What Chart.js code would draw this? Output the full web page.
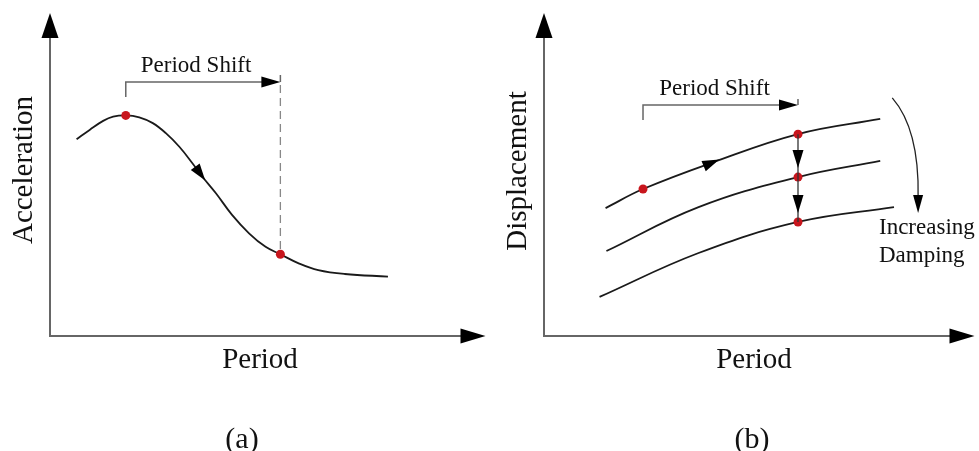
<!DOCTYPE html>
<html>
<head>
<meta charset="utf-8">
<script src="https://cdn.jsdelivr.net/npm/chart.js@4.4.0/dist/chart.umd.min.js"></script>
<style>
html, body { margin: 0; padding: 0; background: #fff; }
#wrap { position: relative; width: 979px; height: 451px; }
#wrap canvas { position: absolute; top: 0; }
</style>
</head>
<body>
<div id="wrap">
  <canvas id="chartA" width="490" height="451" style="left:0"></canvas>
  <canvas id="chartB" width="489" height="451" style="left:490px"></canvas>
</div>
<script>
// (a) acceleration spectrum, period on x, both axes 0..10 (schematic units)
const periodA = [0.61, 0.91, 1.22, 1.45, 1.74, 2.05, 2.36, 2.66, 2.97, 3.27, 3.50, 3.81,
                 4.18, 4.57, 4.95, 5.29, 5.71, 6.16, 6.77, 7.76];
const accelA  = [6.09, 6.38, 6.66, 6.79, 6.83, 6.77, 6.59, 6.28, 5.86, 5.35, 4.93, 4.42,
                 3.75, 3.18, 2.76, 2.53, 2.25, 2.04, 1.92, 1.84];
const markA   = [4, 15];  // red points: start and end of the period shift
const flowA   = 3.45;     // period where the direction arrow sits

// (b) displacement spectra for increasing damping
const periodB1 = [1.43, 2.30, 3.89, 5.90, 7.81];
const dispB1   = [3.96, 4.55, 5.36, 6.25, 6.72];
const periodB2 = [1.45, 3.59, 5.90, 7.81];
const dispB2   = [2.63, 3.99, 4.92, 5.42];
const periodB3 = [1.29, 3.59, 5.90, 8.13];
const dispB3   = [1.21, 2.57, 3.53, 3.99];
const markB1   = [1, 3];
const markB2   = 2;
const markB3   = 2;
const flowB    = 3.89;

// bracket heights for the "Period Shift" notes (y units)
const bracketA = { level: 7.86, low: 7.40, high: 8.08 };
const bracketB = { level: 7.15, low: 6.69, high: 7.34 };
// damping arrow (x, y units): start, bend, end
const dampArrow = [[8.09, 7.37], [8.72, 6.40], [8.69, 3.81]];

const SERIF = '"Liberation Serif", "Times New Roman", serif';
const AXIS = '#666';
const RED = '#c8161d';

const toPts = (xs, ys) => xs.map((x, i) => ({ x: x, y: ys[i] }));

function head(ctx, tx, ty, ang, len, w) {
    ctx.save();
    ctx.translate(tx, ty);
    ctx.rotate(ang);
    ctx.beginPath();
    ctx.moveTo(0, 0);
    ctx.lineTo(-len, -w / 2);
    ctx.lineTo(-len, w / 2);
    ctx.closePath();
    ctx.fillStyle = '#000';
    ctx.fill();
    ctx.restore();
}

function text(ctx, str, px, py, size, align, rot) {
    ctx.save();
    ctx.translate(px, py);
    if (rot) ctx.rotate(rot);
    ctx.font = size + 'px ' + SERIF;
    ctx.fillStyle = '#111';
    ctx.textAlign = align || 'center';
    ctx.textBaseline = 'alphabetic';
    ctx.fillText(str, 0, 0);
    ctx.restore();
}

function drawAxes(ctx, x, y) {
    const ox = x.getPixelForValue(0), oy = y.getPixelForValue(0);
    const ex = x.getPixelForValue(10), ey = y.getPixelForValue(10);
    ctx.save();
    ctx.strokeStyle = AXIS;
    ctx.lineWidth = 2;
    ctx.beginPath();
    ctx.moveTo(ox, ey + 20);
    ctx.lineTo(ox, oy);
    ctx.lineTo(ex - 20, oy);
    ctx.stroke();
    ctx.restore();
    head(ctx, ex, oy, 0, 25, 15);
    head(ctx, ox, ey, -Math.PI / 2, 25, 17);
}

// bracket from xa to xb with an arrow at xb
function bracket(ctx, x, y, xa, xb, br) {
    const pa = x.getPixelForValue(xa), pb = x.getPixelForValue(xb);
    const yl = y.getPixelForValue(br.level);
    ctx.save();
    ctx.strokeStyle = AXIS;
    ctx.lineWidth = 1.5;
    ctx.beginPath();
    ctx.moveTo(pa, y.getPixelForValue(br.low));
    ctx.lineTo(pa, yl);
    ctx.lineTo(pb - 15, yl);
    ctx.moveTo(pb, y.getPixelForValue(br.high));
    ctx.lineTo(pb, yl);
    ctx.stroke();
    ctx.restore();
    head(ctx, pb, yl, 0, 19, 11);
    return { mid: (pa + pb) / 2, yl: yl };
}

// arrow head sitting on a drawn curve at a given period
function flowArrow(ctx, chart, dsIndex, period, len, w) {
    const line = chart.getDatasetMeta(dsIndex).dataset;
    const px = chart.scales.x.getPixelForValue(period);
    const a = line.interpolate({ x: px - 3 }, 'x');
    const p = line.interpolate({ x: px }, 'x');
    const b = line.interpolate({ x: px + 3 }, 'x');
    if (!a || !p || !b) return;
    const ang = Math.atan2(b.y - a.y, b.x - a.x);
    head(ctx, p.x + Math.cos(ang) * len / 2, p.y + Math.sin(ang) * len / 2, ang, len, w);
}

const decoA = {
    id: 'decoA',
    afterDatasetsDraw(chart) {
        const ctx = chart.ctx, x = chart.scales.x, y = chart.scales.y;
        drawAxes(ctx, x, y);
        const b = bracket(ctx, x, y, periodA[markA[0]], periodA[markA[1]], bracketA);
        // dashed drop line to the shifted point
        const px = x.getPixelForValue(periodA[markA[1]]);
        ctx.save();
        ctx.strokeStyle = '#888';
        ctx.lineWidth = 1.3;
        ctx.setLineDash([8, 5]);
        ctx.beginPath();
        ctx.moveTo(px, b.yl + 3);
        ctx.lineTo(px, y.getPixelForValue(accelA[markA[1]]) - 4);
        ctx.stroke();
        ctx.restore();
        flowArrow(ctx, chart, 1, flowA, 17, 11);
        text(ctx, 'Period Shift', b.mid - 7, b.yl - 10, 23);
        text(ctx, 'Period', 260, 368, 29);
        text(ctx, 'Acceleration', 32, 170, 29, 'center', -Math.PI / 2);
        text(ctx, '(a)', 242, 448, 30);
    }
};

const decoB = {
    id: 'decoB',
    afterDatasetsDraw(chart) {
        const ctx = chart.ctx, x = chart.scales.x, y = chart.scales.y;
        drawAxes(ctx, x, y);
        const b = bracket(ctx, x, y, periodB1[markB1[0]], periodB1[markB1[1]], bracketB);
        // drop arrows between the three curves at the shifted period
        const px = x.getPixelForValue(periodB1[markB1[1]]);
        const y1 = y.getPixelForValue(dispB1[markB1[1]]);
        const y2 = y.getPixelForValue(dispB2[markB2]);
        const y3 = y.getPixelForValue(dispB3[markB3]);
        ctx.save();
        ctx.strokeStyle = '#333';
        ctx.lineWidth = 1.3;
        ctx.beginPath();
        ctx.moveTo(px, y1);
        ctx.lineTo(px, y3);
        ctx.stroke();
        ctx.restore();
        head(ctx, px, y2 - 9, Math.PI / 2, 18, 11);
        head(ctx, px, y3 - 9, Math.PI / 2, 18, 11);
        flowArrow(ctx, chart, 1, flowB, 17, 11);
        // curved damping arrow
        const s = dampArrow[0], c = dampArrow[1], e = dampArrow[2];
        const ex = x.getPixelForValue(e[0]), ey = y.getPixelForValue(e[1]);
        ctx.save();
        ctx.strokeStyle = '#222';
        ctx.lineWidth = 1.3;
        ctx.beginPath();
        ctx.moveTo(x.getPixelForValue(s[0]), y.getPixelForValue(s[1]));
        ctx.quadraticCurveTo(x.getPixelForValue(c[0]), y.getPixelForValue(c[1]), ex, ey - 16);
        ctx.stroke();
        ctx.restore();
        head(ctx, ex, ey, Math.PI / 2, 18, 10);
        text(ctx, 'Period Shift', b.mid - 6, b.yl - 10, 23);
        text(ctx, 'Increasing', 389, 234, 23, 'left');
        text(ctx, 'Damping', 389, 262, 23, 'left');
        text(ctx, 'Period', 264, 368, 29);
        text(ctx, 'Displacement', 36, 171, 29, 'center', -Math.PI / 2);
        text(ctx, '(b)', 262, 448, 30);
    }
};

function curve(pts) {
    return {
        type: 'line', data: pts, order: 2,
        borderColor: '#1a1a1a', borderWidth: 1.8,
        pointRadius: 0, fill: false, clip: false,
        tension: 0.4
    };
}

function dots(pts) {
    return {
        type: 'scatter', data: pts, order: 0,
        pointRadius: 4.5, pointBackgroundColor: RED, pointBorderWidth: 0,
        clip: false
    };
}

function options(pad) {
    return {
        responsive: false,
        animation: false,
        devicePixelRatio: 1,
        events: [],
        layout: { padding: pad },
        plugins: { legend: { display: false }, tooltip: { enabled: false } },
        scales: {
            x: { type: 'linear', min: 0, max: 10, display: false },
            y: { type: 'linear', min: 0, max: 10, display: false }
        }
    };
}

const ptsA = toPts(periodA, accelA);
new Chart(document.getElementById('chartA'), {
    type: 'line',
    data: {
        datasets: [
            dots(markA.map(i => ptsA[i])),
            curve(ptsA)
        ]
    },
    options: options({ left: 50, top: 13, right: 2, bottom: 115 }),
    plugins: [decoA]
});

const ptsB1 = toPts(periodB1, dispB1);
const ptsB2 = toPts(periodB2, dispB2);
const ptsB3 = toPts(periodB3, dispB3);
new Chart(document.getElementById('chartB'), {
    type: 'line',
    data: {
        datasets: [
            dots([ptsB1[markB1[0]], ptsB1[markB1[1]], ptsB2[markB2], ptsB3[markB3]]),
            curve(ptsB1),
            curve(ptsB2),
            curve(ptsB3)
        ]
    },
    options: options({ left: 54, top: 13, right: 1, bottom: 115 }),
    plugins: [decoB]
});
</script>
</body>
</html>
